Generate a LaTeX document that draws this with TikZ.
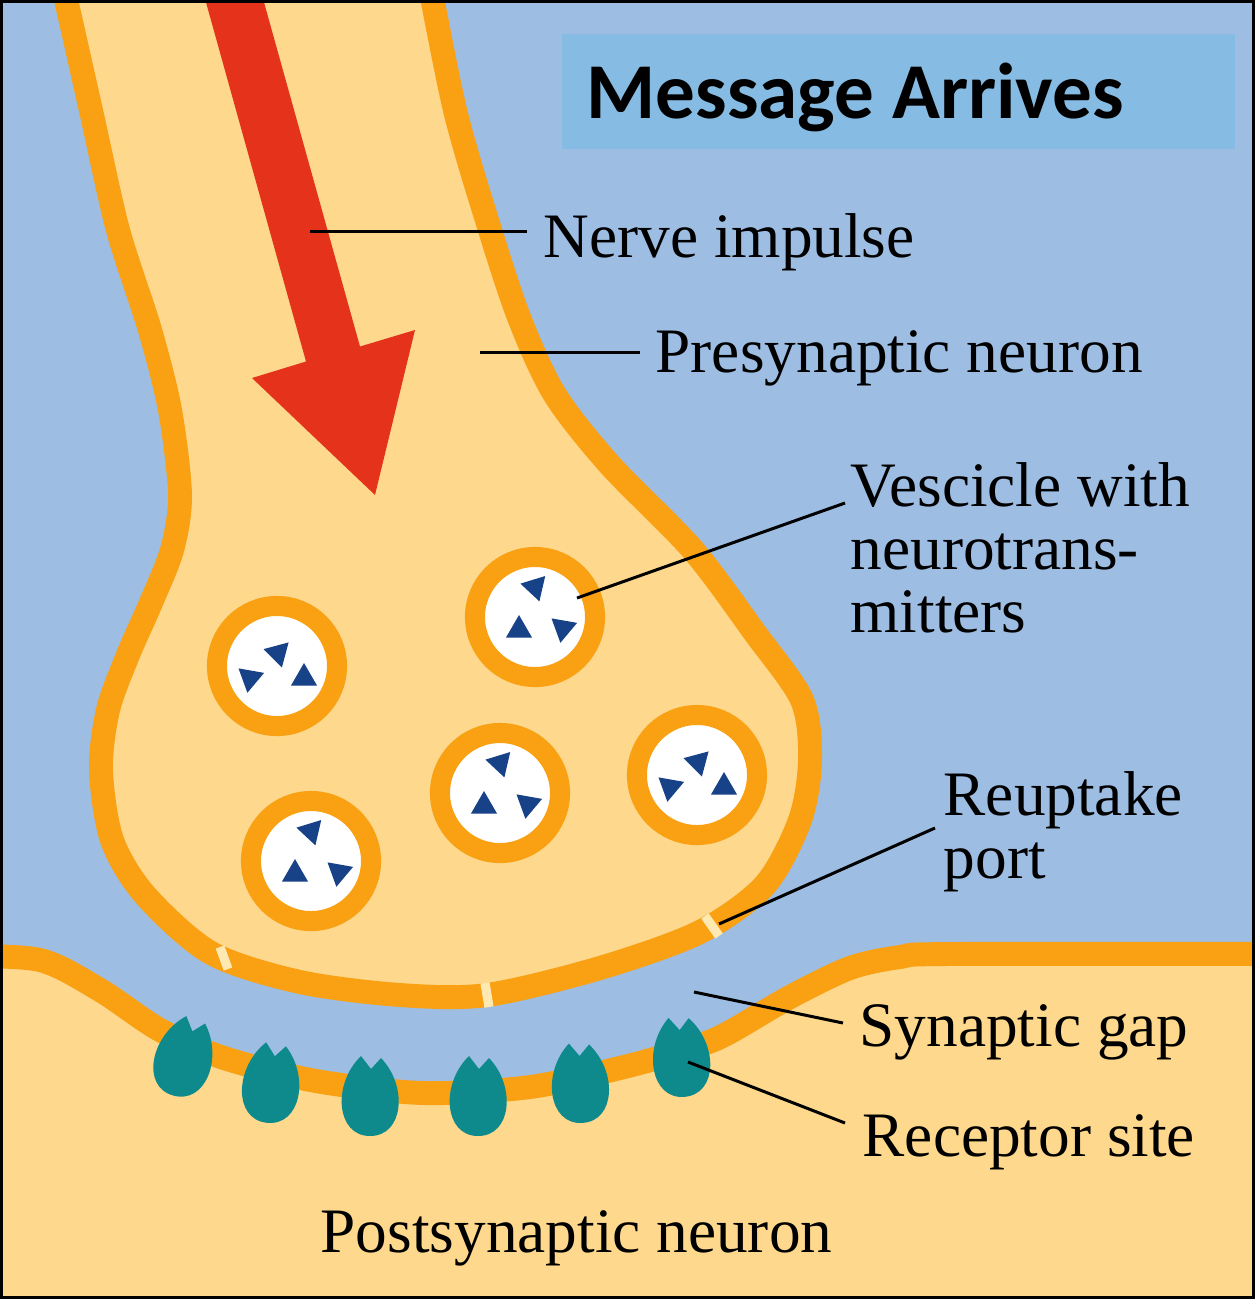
\documentclass[tikz,border=0pt]{standalone}
\usepackage{fontspec}
\setmainfont{Liberation Serif}
\newfontfamily\headfont{Carlito}
\usepackage{xcolor}
\usepackage{tikz}

\definecolor{gapblue}{RGB}{157,189,226}
\definecolor{headblue}{RGB}{134,188,227}
\definecolor{cream}{RGB}{253,216,141}
\definecolor{poreyellow}{RGB}{255,233,178}
\definecolor{memorange}{RGB}{249,161,18}
\definecolor{impulsered}{RGB}{229,51,27}
\definecolor{ntblue}{RGB}{24,66,136}
\definecolor{receptorteal}{RGB}{14,138,140}

\tikzstyle{membrane} = [draw=memorange, line width=6.8pt, line join=round]
\tikzstyle{vesicle} = [draw=memorange, fill=white, line width=5.7pt]
\tikzstyle{pore} = [draw=poreyellow, line width=2.6pt]
\tikzstyle{receptor} = [fill=receptorteal]
\tikzstyle{leader} = [draw, line width=0.85pt]
\tikzstyle{lbltext} = [font=\fontsize{18}{17.9}\selectfont, anchor=base west, inner sep=0pt, align=left]
\tikzstyle{headtext} = [font={\headfont\bfseries\fontsize{22.5}{27}\selectfont}, anchor=base west, inner sep=0pt]

% one neurotransmitter: x offset, y offset, direction of a tip
\newcommand{\ntri}[3]{\fill[ntblue, shift={(#1,#2)}] ({-(#3)}:15) -- ({-(#3)+120}:15) -- ({-(#3)+240}:15) -- cycle;}

\begin{document}
\begin{tikzpicture}[x=0.01cm, y=-0.01cm]
    \useasboundingbox (0,0) rectangle (1255,1299);
    \fill[gapblue] (0,0) rectangle (1255,1299);

    \begin{scope}
    \clip (0,0) rectangle (1255,1299);
    % Postsynaptic neuron
    \draw[membrane, fill=cream] plot[smooth] coordinates {(-40,956) (40,960) (100,990) (160,1030) (224,1058) (316,1081) (423,1093) (530,1087) (628,1066) (700,1045) (730,1032) (790,997) (850,968) (900,957) (950,954) (1300,954)} -- (1300,1350) -- (-40,1350) -- cycle;

    % Presynaptic terminal
    \draw[membrane, fill=cream] plot[smooth] coordinates {(55,-40) (66,0) (92,115) (118,230) (150,330) (170,410) (180,495) (172,550) (150,605) (128,655) (108,710) (101,770) (112,840) (145,895) (211,953) (300,982) (400,995) (487,995) (600,968) (700,932) (765,885) (800,820) (810,760) (802,700) (755,633) (693,550) (610,465) (555,395) (520,320) (490,230) (455,110) (425,-40)} -- cycle;
    \draw[pore] (220,947) -- (228,969);
    \draw[pore] (485,983) -- (489,1007);
    \draw[pore] (705,916) -- (719,936);

    % Vesicles
    \foreach \cx/\cy in {277/666, 535/617, 500/793, 697/775, 311/861}
        \draw[vesicle] (\cx,\cy) circle [radius=0.6cm];
    \foreach \cx/\cy in {535/617, 500/793, 311/861} {
        \begin{scope}[shift={(\cx,\cy)}]
            \ntri{0}{-30}{-73}
            \ntri{-16}{13}{90}
            \ntri{28}{11}{-100}
        \end{scope}
    }
    \foreach \cx/\cy in {277/666, 697/775} {
        \begin{scope}[shift={(\cx,\cy)}]
            \ntri{1}{-13}{-75}
            \ntri{-27}{12}{-100}
            \ntri{27}{12}{90}
        \end{scope}
    }

    % Impulse arrow
    \fill[impulsered] (197,-30) -- (306,361.5) -- (252,378) -- (375,495) -- (415,330) -- (360,346.5) -- (255,-30) -- cycle;

    % Receptors
    \foreach \rx/\ry/\tilt in {184/1057/-16, 271/1083/-6, 370/1096/0, 478/1096/0, 580/1083/3, 681/1057/5}
        \fill[receptor, shift={(\rx,\ry)}, rotate=\tilt] (0,40) .. controls (-34,40) and (-38,-12) .. (-9,-40) -- (1,-27) -- (11,-38) .. controls (38,-10) and (34,40) .. (0,40) -- cycle;
    \end{scope}

    % Heading
    \fill[headblue] (562,34) rectangle (1235,149);
    \node[headtext] (heading) at (586,118) {Message Arrives};

    % Labels (multi-line ones sit on their last line)
    \node[lbltext] (impulse) at (543,257) {Nerve impulse};
    \node[lbltext] (presyn) at (655,372) {Presynaptic neuron};
    \node[lbltext] (vesicleLbl) at (850,632) {Vescicle with\\neurotrans-\\mitters};
    \node[lbltext] (reuptake) at (943,878) {Reuptake\\port};
    \node[lbltext] (gap) at (859,1046) {Synaptic gap};
    \node[lbltext] (receptorLbl) at (862,1156) {Receptor site};
    \node[lbltext] (postsyn) at (320,1252) {Postsynaptic neuron};

    \coordinate (impulsePt) at (310,231);
    \coordinate (presynPt) at (480,352);
    \coordinate (vesiclePt) at (577,598);
    \coordinate (reuptakePt) at (719,924);
    \coordinate (gapPt) at (694,992);
    \coordinate (receptorPt) at (688,1062);

    % Leaders
    \draw[leader] (impulsePt) -- ([shift={(-16,-26)}]impulse.base west);
    \draw[leader] (presynPt) -- ([shift={(-15,-20)}]presyn.base west);
    \draw[leader] (vesiclePt) -- ([shift={(-5,-129)}]vesicleLbl.base west);
    \draw[leader] (reuptakePt) -- ([shift={(-8,-50)}]reuptake.base west);
    \draw[leader] (gapPt) -- ([shift={(-16,-23)}]gap.base west);
    \draw[leader] (receptorPt) -- ([shift={(-17,-33)}]receptorLbl.base west);

    \draw[line width=0.85pt] (1.5,1.5) rectangle (1253.5,1297.5);
\end{tikzpicture}
\end{document}
